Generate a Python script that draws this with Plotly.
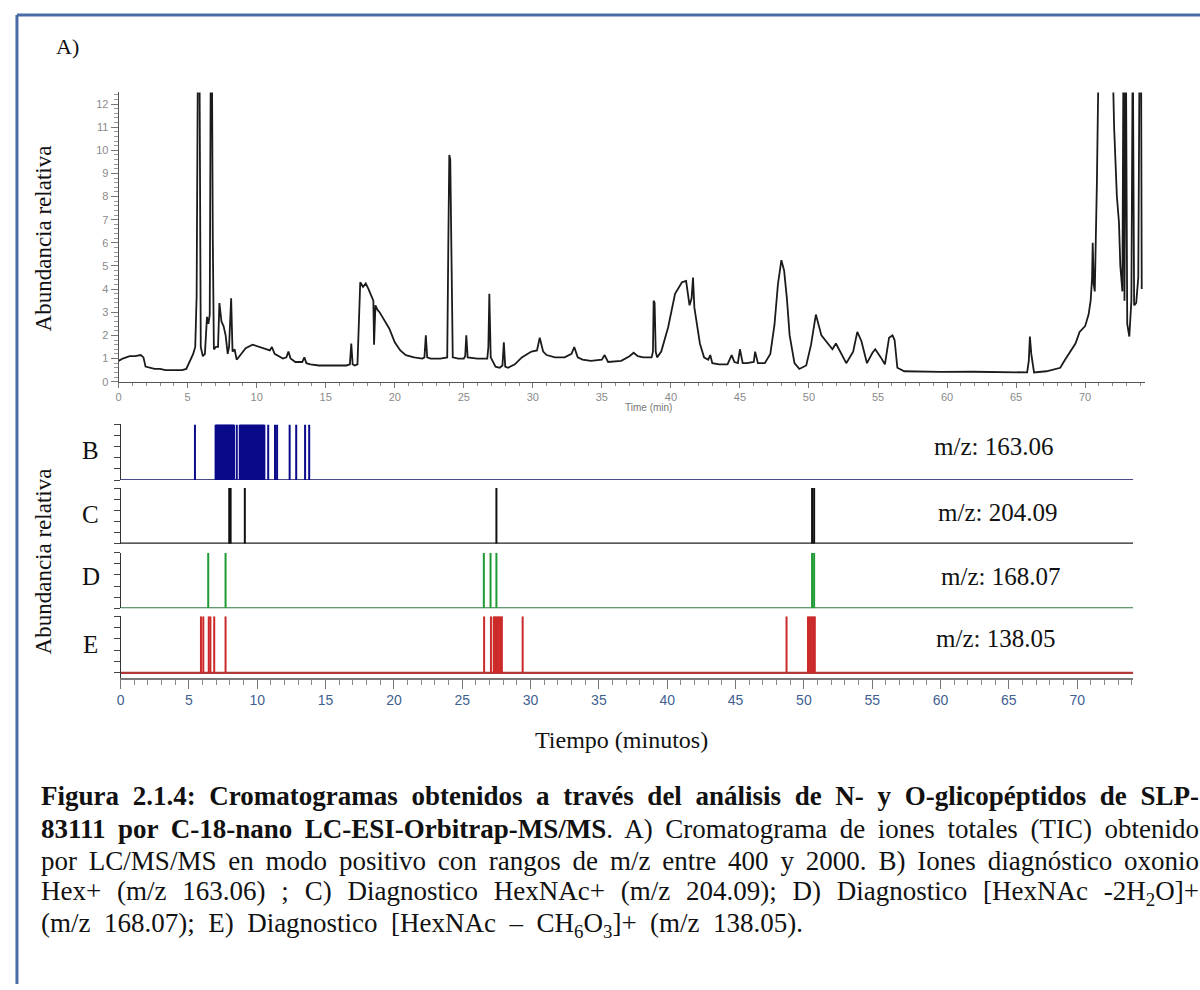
import plotly.graph_objects as go

# ---------------- data ----------------
# Total ion chromatogram (TIC): retention time (min) and relative abundance
tic_time = [
    0.0, 0.3, 0.8, 1.2, 1.6, 1.8, 1.95, 2.3, 2.6, 3.0, 3.4, 3.8, 4.2, 4.6, 4.9,
    5.05, 5.2, 5.4, 5.55, 5.65, 5.75, 5.85, 5.95, 6.1, 6.25, 6.4, 6.5, 6.6, 6.68,
    6.75, 6.82, 6.9, 7.05, 7.2, 7.3, 7.45, 7.6, 7.75, 7.9, 8.0, 8.15, 8.25, 8.4,
    8.55, 8.75, 9.2, 9.7, 10.2, 10.7, 10.95, 11.1, 11.3, 11.9, 12.15, 12.3, 12.45,
    12.8, 13.3, 13.45, 13.6, 13.9, 14.5, 15.5, 16.5, 16.75, 16.85, 16.95, 17.1,
    17.3, 17.4, 17.5, 17.7, 17.9, 18.1, 18.3, 18.45, 18.5, 18.6, 18.75, 18.9,
    19.1, 19.3, 19.6, 19.8, 20.0, 20.4, 20.8, 21.4, 22.0, 22.15, 22.25, 22.35,
    22.6, 23.3, 23.8, 23.88, 23.95, 24.02, 24.1, 24.2, 24.6, 25.0, 25.1, 25.18,
    25.28, 26.0, 26.7, 26.78, 26.85, 26.95, 27.3, 27.6, 27.8, 27.9, 28.0, 28.2,
    28.7, 29.2, 29.9, 30.3, 30.5, 30.75, 31.0, 31.6, 32.3, 32.8, 33.0, 33.25,
    33.6, 34.2, 35.0, 35.2, 35.45, 36.4, 37.0, 37.3, 37.6, 38.0, 38.6, 38.7,
    38.75, 38.82, 38.9, 39.0, 39.3, 39.8, 40.3, 40.8, 41.1, 41.35, 41.5, 41.6,
    41.7, 41.8, 42.1, 42.4, 42.7, 42.85, 43.0, 43.5, 44.1, 44.4, 44.6, 44.85,
    45.0, 45.2, 45.5, 46.0, 46.1, 46.3, 46.8, 47.2, 47.5, 47.75, 48.0, 48.2,
    48.4, 48.6, 48.95, 49.3, 49.8, 50.15, 50.5, 50.9, 51.25, 51.7, 51.95, 52.3,
    52.7, 53.2, 53.5, 53.8, 54.2, 54.6, 54.8, 55.2, 55.5, 55.8, 56.05, 56.2,
    56.4, 56.9, 58.3, 59.5, 61.9, 64.3, 65.8, 65.92, 66.0, 66.1, 66.3, 67.2,
    68.2, 68.5, 68.9, 69.3, 69.6, 70.0, 70.25, 70.4, 70.5, 70.55, 70.62, 70.7,
    70.85, 71.0, 71.2, 71.6, 71.95, 72.1, 72.3, 72.45, 72.55, 72.7, 72.78, 72.85,
    72.95, 73.05, 73.2, 73.35, 73.45, 73.55, 73.7, 73.85, 73.95, 74.05, 74.1,
]
tic_abund = [
    0.9, 1.0, 1.1, 1.1, 1.15, 1.05, 0.65, 0.6, 0.55, 0.55, 0.5, 0.5, 0.5, 0.5, 0.55,
    0.75, 0.9, 1.2, 1.5, 3.7, 15, 15, 1.5, 1.1, 1.2, 2.8, 2.5, 2.9, 15,
    15, 6.2, 1.4, 1.5, 1.5, 3.4, 2.6, 2.4, 2.0, 1.2, 1.5, 3.6, 1.3, 1.4,
    0.95, 1.1, 1.45, 1.6, 1.5, 1.4, 1.35, 1.5, 1.2, 1.0, 1.05, 1.3, 1.0,
    0.85, 0.85, 1.05, 0.8, 0.75, 0.7, 0.7, 0.7, 0.75, 1.65, 0.75, 0.7,
    0.75, 3.1, 4.3, 4.1, 4.25, 4.0, 3.7, 3.5, 1.6, 3.3, 3.1, 3.0,
    2.8, 2.6, 2.3, 2.0, 1.7, 1.35, 1.15, 1.05, 1.0, 1.05, 2.0, 1.05,
    1.0, 1.0, 1.05, 6.0, 9.8, 9.6, 6.3, 1.05, 1.0, 1.0, 1.1, 2.0,
    1.05, 1.0, 1.0, 1.5, 3.8, 1.05, 0.65, 0.6, 0.7, 1.7, 0.65, 0.6,
    0.75, 1.05, 1.3, 1.35, 1.9, 1.3, 1.15, 1.05, 1.05, 1.2, 1.5, 1.05,
    0.95, 0.9, 0.95, 1.15, 0.85, 0.9, 1.1, 1.25, 1.1, 1.05, 1.05, 1.3,
    3.5, 3.4, 1.3, 1.05, 1.3, 2.35, 3.8, 4.3, 4.35, 3.3, 3.6, 4.5,
    3.2, 2.8, 1.65, 1.05, 0.95, 1.15, 0.8, 0.75, 0.75, 1.15, 0.85, 0.8,
    1.4, 0.8, 0.8, 0.85, 1.3, 0.8, 0.8, 1.2, 2.45, 4.2, 5.25, 4.8,
    3.6, 2.0, 0.8, 0.55, 0.7, 1.6, 2.9, 2.0, 1.75, 1.4, 1.65, 1.25,
    0.8, 1.3, 2.15, 1.75, 0.8, 1.25, 1.4, 1.05, 0.75, 1.9, 2.0, 1.8,
    0.6, 0.45, 0.43, 0.42, 0.43, 0.4, 0.4, 0.9, 1.95, 1.2, 0.4, 0.45,
    0.6, 0.9, 1.3, 1.65, 2.15, 2.4, 2.9, 3.5, 4.45, 6.0, 4.2, 3.9,
    8.5, 15, 15, 16, 15, 11.0, 8.0, 6.9, 5.0, 3.9, 15, 3.5,
    15, 2.5, 1.95, 3.5, 15, 3.3, 3.4, 4.5, 15, 15, 4.0,
]

# Scan times (min) at which each diagnostic oxonium ion was detected
hex_163_times = [
    5.44,
    6.95, 7.0, 7.05, 7.1, 7.15, 7.2, 7.25, 7.3, 7.35, 7.4, 7.45, 7.5, 7.55,
    7.6, 7.65, 7.7, 7.75, 7.8, 7.85, 7.9, 7.95, 8.0, 8.05, 8.1, 8.15, 8.2,
    8.25, 8.3, 8.5,
    8.72, 8.78, 8.84, 8.9, 8.96, 9.02, 9.08, 9.14, 9.2, 9.26, 9.32, 9.38,
    9.44, 9.5, 9.56, 9.62, 9.68, 9.74, 9.8, 9.86, 9.92, 9.98, 10.04, 10.1,
    10.16, 10.22, 10.28, 10.34, 10.4, 10.46, 10.52,
    10.8, 11.3, 11.45, 12.37, 12.85, 13.5, 13.8,
]
hexnac_204_times = [7.95, 8.05, 9.09, 27.5, 50.6, 50.75]
hexnac_168_times = [6.41, 7.68, 26.58, 27.07, 27.5, 50.6, 50.75]
hexnac_138_times = [5.88, 6.05, 6.45, 6.57, 6.85, 7.68, 26.6, 27.1, 27.3, 27.4,
                    27.5, 27.6, 27.7, 27.8, 27.9, 29.42, 48.73, 50.3, 50.4,
                    50.5, 50.6, 50.7, 50.8]

panel_letters = ["B", "C", "D", "E"]
panel_mz = ["m/z: 163.06", "m/z: 204.09", "m/z: 168.07", "m/z: 138.05"]
panel_times = [hex_163_times, hexnac_204_times, hexnac_168_times, hexnac_138_times]
panel_colors = ["#0a0a8a", "#111111", "#1f9a35", "#cc2a2a"]
baseline_colors = ["#4c4c8c", "#222222", "#2f7a3f", "#b03a3a"]
detect_level = 100          # sticks span the full relative scale
run_end = 74.1

caption_lines = [
    "<b>Figura 2.1.4: Cromatogramas obtenidos a través del análisis de N- y O-glicopéptidos de SLP-</b>",
    "<b>83111 por C-18-nano LC-ESI-Orbitrap-MS/MS</b>. A) Cromatograma de iones totales (TIC) obtenido",
    "por LC/MS/MS en modo positivo con rangos de m/z entre 400 y 2000. B) Iones diagnóstico oxonio",
    "Hex+ (m/z 163.06) ; C) Diagnostico HexNAc+ (m/z 204.09); D) Diagnostico [HexNAc -2H<sub>2</sub>O]+",
    "(m/z 168.07); E) Diagnostico [HexNAc – CH<sub>6</sub>O<sub>3</sub>]+ (m/z 138.05).",
]

# ---------------- layout helpers ----------------
W, H = 1200, 990
SERIF = "Liberation Serif, Times New Roman, serif"
SANS = "Liberation Sans, Arial, sans-serif"
CAPTION_LEFT, CAPTION_RIGHT = 35, 1193


def fx(x):
    return x / W


def fy(y):
    return 1 - y / H


fig = go.Figure()

# TIC trace
fig.add_trace(go.Scatter(
    x=tic_time, y=tic_abund, mode="lines",
    line=dict(color="#1b1b1b", width=1.8),
    xaxis="x", yaxis="y", showlegend=False, hoverinfo="skip",
))

# diagnostic ion panels
panel_boxes = [(427, 483), (491, 547), (556, 612), (620, 682)]
for i, (times, col, bcol) in enumerate(zip(panel_times, panel_colors, baseline_colors)):
    n = i + 2
    xs, ys = [], []
    for t in times:
        xs += [t, t, None]
        ys += [0, detect_level, None]
    fig.add_trace(go.Scatter(
        x=[0, run_end], y=[0, 0], mode="lines",
        line=dict(color=bcol, width=2.2),
        xaxis=f"x{n}", yaxis=f"y{n}", showlegend=False, hoverinfo="skip",
    ))
    fig.add_trace(go.Scatter(
        x=xs, y=ys, mode="lines", line=dict(color=col, width=2),
        xaxis=f"x{n}", yaxis=f"y{n}", showlegend=False, hoverinfo="skip",
    ))

layout = dict(
    width=W, height=H,
    margin=dict(l=0, r=0, t=0, b=0),
    paper_bgcolor="white", plot_bgcolor="white",
    xaxis=dict(
        domain=[fx(115), fx(1145)], range=[0, 74.35], anchor="y",
        showgrid=False, zeroline=False, showline=True, linecolor="#555", linewidth=1,
        ticks="outside", ticklen=5, tickcolor="#777", dtick=5, tick0=0,
        minor=dict(dtick=1, ticks="outside", ticklen=3, tickcolor="#888"),
        tickfont=dict(family=SANS, size=11, color="#8a8a8a"),
    ),
    yaxis=dict(
        domain=[fy(384), fy(93)], range=[0, 12.5], anchor="x",
        showgrid=False, zeroline=False, showline=True, linecolor="#555", linewidth=1,
        ticks="outside", ticklen=7, tickcolor="#777", dtick=1, tick0=0,
        minor=dict(dtick=0.2, ticks="outside", ticklen=4, tickcolor="#999"),
        tickfont=dict(family=SANS, size=11, color="#8a8a8a"),
    ),
)

for i, (top, bot) in enumerate(panel_boxes):
    n = i + 2
    last = i == 3
    # the bottom panel's baseline sits a few pixels above the shared time axis
    yr = [-8.8, 100] if last else [0, 100]
    layout[f"xaxis{n}"] = dict(
        domain=[fx(117), fx(1133)], range=[0, run_end], anchor=f"y{n}",
        visible=last, showgrid=False, zeroline=False,
        showline=True, linecolor="#7a7a7a", linewidth=1.5,
        ticks="outside", ticklen=9, tickcolor="#777", dtick=5, tick0=0,
        minor=dict(dtick=1, ticks="outside", ticklen=5, tickcolor="#888"),
        tickfont=dict(family=SANS, size=14, color="#3f5f92"),
    )
    layout[f"yaxis{n}"] = dict(
        domain=[fy(bot), fy(top)], range=yr, anchor=f"x{n}",
        showgrid=False, zeroline=False, showline=True, linecolor="#333", linewidth=1.2,
        ticks="outside", ticklen=6, tickcolor="#444", dtick=20, tick0=0,
        showticklabels=False,
    )

fig.update_layout(**layout)

ann = []


def text(x, y, s, size, family=SERIF, color="#111", xanchor="center", angle=0, align="center"):
    ann.append(dict(
        x=fx(x), y=fy(y), xref="paper", yref="paper", text=s, showarrow=False,
        xanchor=xanchor, yanchor="middle", textangle=angle, align=align,
        font=dict(family=family, size=size, color=color),
    ))


text(50, 47, "A)", 22, xanchor="left")
text(40, 240, "Abundancia relativa", 23, angle=-90)
text(40, 565, "Abundancia relativa", 23, angle=-90)
text(647, 410, "Time (min)", 10, family=SANS, color="#777")
text(620, 745, "Tiempo (minutos)", 24)

letter_y = [453, 518, 580, 648]
mz_pos = [(993, 449), (997, 516), (1000, 580), (995, 642)]
for letter, ly, mz, (mx, my) in zip(panel_letters, letter_y, panel_mz, mz_pos):
    text(87, ly, letter, 25)
    text(mx, my, mz, 25)

cap_y = [801, 834, 866, 898, 931]
for s, cy in zip(caption_lines, cap_y):
    text(CAPTION_LEFT, cy, s, 27, xanchor="left", align="left")

fig.update_layout(annotations=ann)

# frame lines (top and left edges)
fig.update_layout(shapes=[
    dict(type="line", xref="paper", yref="paper", x0=fx(13), x1=1, y0=fy(15), y1=fy(15),
         line=dict(color="#4a6ca6", width=3)),
    dict(type="line", xref="paper", yref="paper", x0=fx(13), x1=fx(13), y0=fy(15), y1=0,
         line=dict(color="#4a6ca6", width=3)),
])

# justify the caption paragraph: stretch word gaps so each full line
# spans the caption width; the last line keeps the average gap
justify_js = """
(function () {
  var target = %d;
  function justify() {
    var gd = document.getElementById('{plot_id}');
    if (!gd) return;
    var els = gd.querySelectorAll('text.annotation-text');
    var n = els.length;
    if (n < 5) return;
    var total = 0, cnt = 0, k;
    for (k = n - 5; k < n; k++) els[k].style.wordSpacing = '0px';
    for (k = n - 5; k < n - 1; k++) {
      var el = els[k];
      var w = el.getComputedTextLength();
      var sp = (el.textContent.match(/[ \\u00a0]/g) || []).length;
      if (!sp) continue;
      var ws = (target - w) / sp;
      el.style.wordSpacing = ws + 'px';
      total += ws; cnt++;
    }
    if (cnt) els[n - 1].style.wordSpacing = (total / cnt) + 'px';
  }
  justify();
  setTimeout(justify, 150);
  if (document.fonts && document.fonts.ready) document.fonts.ready.then(justify);
})();
""" % (CAPTION_RIGHT - CAPTION_LEFT)

fig.write_html("out.html", post_script="document.body.style.margin='0';" + justify_js)
